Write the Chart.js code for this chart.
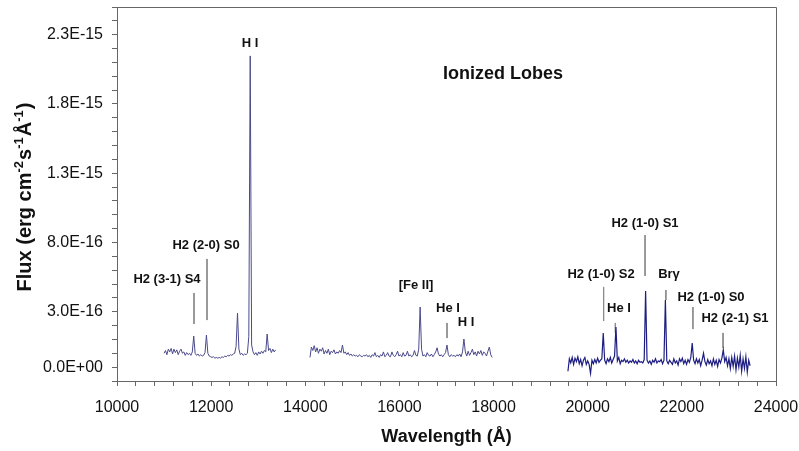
<!DOCTYPE html>
<html><head><meta charset="utf-8">
<script src="https://cdn.jsdelivr.net/npm/chart.js@4.4.0/dist/chart.umd.min.js"></script>
<style>html,body{margin:0;padding:0;background:#fff}</style>
</head><body>
<canvas id="c" width="799" height="451"></canvas>
<script>
// ---- data (flux in units of 1e-16 erg cm^-2 s^-1 A^-1, wavelength in Angstrom) ----
const seg1Start = 11000, seg1Step = 30;
const seg1Flux = [0.0,0.2,-0.1,0.3,0.1,0.35,-0.05,0.3,0.05,0.25,-0.1,0.15,0.3,0.0,0.1,-0.15,0.05,-0.1,0.0,-0.15,
  0.1,1.25,0.0,-0.15,-0.05,-0.2,-0.1,-0.2,-0.15,0.05,1.32,0.0,-0.2,-0.25,-0.3,-0.25,-0.35,-0.3,-0.35,-0.3,
  -0.35,-0.25,-0.3,-0.2,-0.25,-0.15,-0.2,-0.1,-0.15,-0.05,0.0,0.5,2.91,0.3,-0.1,0.0,-0.15,-0.05,-0.1,0.0,
  1.2,21.47,0.6,0.1,-0.1,0.05,-0.15,0.1,-0.05,0.15,0.0,0.2,0.1,1.39,0.2,0.35,0.05,0.3,0.1,0.25];

const seg2Start = 14100, seg2Step = 30;
const seg2Flux = [-0.3,0.45,0.2,0.55,0.1,0.4,0.0,0.3,0.15,0.4,-0.05,0.2,0.0,0.3,-0.1,0.15,0.05,0.25,-0.05,0.1,
  0.0,0.2,0.05,0.6,0.0,0.1,-0.1,0.05,-0.15,-0.05,-0.2,-0.1,-0.2,-0.15,-0.25,-0.1,-0.2,-0.25,-0.15,-0.2,
  -0.1,-0.25,-0.15,-0.3,-0.1,-0.2,0.05,-0.25,-0.15,-0.3,-0.1,-0.2,0.1,-0.25,-0.15,0.05,-0.2,-0.25,0.1,-0.15,
  -0.25,-0.1,0.15,-0.2,-0.1,-0.25,0.05,-0.2,-0.15,0.15,-0.2,-0.1,-0.25,-0.15,0.2,-0.15,-0.2,0.3,3.34,0.3,
  -0.2,-0.1,-0.25,0.05,-0.15,-0.2,-0.05,-0.25,-0.1,0.1,0.4,-0.05,-0.2,-0.1,-0.25,-0.1,0.05,0.6,-0.1,-0.25,
  -0.1,-0.2,-0.15,-0.25,-0.1,-0.2,-0.05,-0.25,0.1,1.03,0.1,-0.2,0.15,-0.15,0.05,0.3,-0.1,0.1,-0.2,0.15,
  -0.05,0.2,-0.15,0.1,0.0,-0.2,0.15,0.45,-0.1,-0.3];

const seg3Start = 19580, seg3Step = 30;
const seg3Flux = [-1.3,-0.4,-0.7,-0.3,-0.8,-0.35,-0.6,-0.25,-0.75,-0.45,-0.9,-0.5,-0.3,-0.8,-0.55,-0.8,-1.45,-0.5,-0.75,-0.45,
  -0.7,-0.35,-0.65,-0.5,-0.4,1.47,-0.5,-0.75,-0.4,-0.6,-0.3,-0.7,-0.45,-0.2,1.9,-0.55,-0.3,-0.75,-0.5,-0.6,
  -0.4,-0.65,-0.5,-0.7,-0.55,-0.65,-0.45,-0.7,-0.55,-0.75,-0.5,-0.65,-0.6,-0.7,-0.45,4.5,-0.5,-0.7,-0.55,-0.8,
  -0.5,-0.65,-0.4,-0.7,-0.55,-0.6,-0.45,-0.75,-0.5,3.85,-0.55,-0.75,-0.5,-0.65,-0.8,-0.4,-0.7,-0.55,-0.85,-0.4,
  -0.6,-0.35,-0.75,-0.5,-0.8,-0.45,-0.65,-0.3,0.74,-0.5,-0.75,-0.4,-0.7,-0.45,-0.9,-0.5,0.0,-0.6,-0.85,-0.45,
  -0.75,-0.55,-0.9,-0.4,-0.8,-0.5,-0.95,-0.45,-0.7,-0.35,0.24,-0.6,-0.3,-0.9,-0.4,-1.1,-0.3,-0.95,-0.2,-1.2,
  -0.35,-1.0,-0.15,-1.3,-0.4,-1.1,-0.25,-1.35,-0.5,-0.9];

// line identifications
const annotText = ['H2 (3-1) S4','H2 (2-0) S0','H I','[Fe II]','He I','H I','H2 (1-0) S2','He I','H2 (1-0) S1','Br\u03B3','H2 (1-0) S0','H2 (2-1) S1'];
const annotWave = [11062,11891,12826,16352,17032,17415,20283,20665,21217,21727,22619,23129];
const annotFlux = [5.36,7.82,22.4,4.93,3.27,2.26,5.73,3.27,9.41,5.73,4.06,2.55];

const markWave   = [11636,11912,17011,20338,20587,21218,21661,22235,22875];
const markTop    = [4.35,6.81,2.19,4.79,2.19,8.54,4.57,3.34,1.47];
const markBottom = [2.12,2.40,1.10,2.33,1.47,5.58,3.85,1.75,0.38];

const panelTitle = 'Ionized Lobes';
const panelTitleWave = 18200, panelTitleFlux = 20.17;

// axes
const yTickValues = [-1,3,8,13,18,23];
const yTickLabels = ['0.0E+00','3.0E-16','8.0E-16','1.3E-15','1.8E-15','2.3E-15'];
const yMin = -2, yMax = 25, yMinorStep = 1;
const xTickValues = [10000,12000,14000,16000,18000,20000,22000,24000];
const xTickLabels = ['10000','12000','14000','16000','18000','20000','22000','24000'];
const xMin = 10000, xMax = 24000, xMinorStep = 400;
const xTitle = 'Wavelength (\u00C5)';
const yTitleParts = [['Flux (erg cm',0],['-2',1],['s',0],['-1',1],['\u00C5',0],['-1',1],[')',0]];

// ---- build ----
function seg(start, step, arr){ return arr.map((v,i)=>({x:start+i*step, y:v})); }
const datasets = [
  {data:seg(seg1Start,seg1Step,seg1Flux), borderColor:'#4a4a8c', borderWidth:1},
  {data:seg(seg2Start,seg2Step,seg2Flux), borderColor:'#4a4a8c', borderWidth:1},
  {data:seg(seg3Start,seg3Step,seg3Flux), borderColor:'#1e1e82', borderWidth:1.2}
].map(d=>Object.assign(d,{showLine:true,pointRadius:0,tension:0}));
markWave.forEach((w,i)=>{
  datasets.push({data:[{x:w,y:markTop[i]},{x:w,y:markBottom[i]}],showLine:true,pointRadius:0,borderWidth:1,borderColor:'#8c8c8c'});
});

const FONT = '"Liberation Sans", Arial, sans-serif';
const yMap = {}; yTickValues.forEach((v,i)=>yMap[v]=yTickLabels[i]);
const xMap = {}; xTickValues.forEach((v,i)=>xMap[v]=xTickLabels[i]);

const textPlugin = {
  id:'textPlugin',
  afterDraw(chart){
    const {ctx, chartArea:a, scales:{x,y}} = chart;
    ctx.save();
    // frame top/right
    ctx.strokeStyle = '#666'; ctx.lineWidth = 1;
    ctx.beginPath();
    ctx.moveTo(Math.round(a.left)+0.5, Math.round(a.top)+0.5);
    ctx.lineTo(Math.round(a.right)+0.5, Math.round(a.top)+0.5);
    ctx.lineTo(Math.round(a.right)+0.5, Math.round(a.bottom)+0.5);
    ctx.stroke();
    // annotations
    ctx.fillStyle = '#111';
    ctx.textAlign = 'center'; ctx.textBaseline = 'middle';
    ctx.font = 'bold 13px ' + FONT;
    annotText.forEach((t,i)=>{ ctx.fillText(t, x.getPixelForValue(annotWave[i]), y.getPixelForValue(annotFlux[i])); });
    ctx.font = 'bold 18px ' + FONT;
    ctx.fillText(panelTitle, x.getPixelForValue(panelTitleWave), y.getPixelForValue(panelTitleFlux));
    // x title
    ctx.font = 'bold 18px ' + FONT;
    ctx.fillText(xTitle, (a.left+a.right)/2, 437);
    // y title with superscripts
    ctx.translate(25, 197); ctx.rotate(-Math.PI/2);
    const big = 'bold 20px ' + FONT, small = 'bold 13px ' + FONT;
    let w = 0;
    yTitleParts.forEach(p=>{ ctx.font = p[1]?small:big; w += ctx.measureText(p[0]).width + (p[1]?1:0); });
    let cx = -w/2;
    ctx.textAlign = 'left';
    yTitleParts.forEach(p=>{ ctx.font = p[1]?small:big; ctx.fillText(p[0], cx, p[1]?-6:0); cx += ctx.measureText(p[0]).width + (p[1]?1:0); });
    ctx.restore();
  }
};

function noPad(s){ s.paddingTop = 0; s.paddingBottom = 0; s.paddingLeft = 0; s.paddingRight = 0; }

new Chart(document.getElementById('c'), {
  type:'scatter',
  data:{datasets},
  options:{
    responsive:false, animation:false,
    layout:{padding:{left:0,right:23,top:7,bottom:0}},
    plugins:{legend:{display:false}, tooltip:{enabled:false}},
    scales:{
      x:{type:'linear', min:xMin, max:xMax,
        afterBuildTicks:(s)=>{ const t=[]; for(let v=xMin; v<=xMax; v+=xMinorStep) t.push({value:v}); s.ticks=t; },
        afterFit:(s)=>{ s.height = 70; noPad(s); },
        grid:{drawOnChartArea:false, drawTicks:true, tickLength:5, color:'#666'},
        border:{display:true, color:'#666', width:1},
        ticks:{autoSkip:false, maxRotation:0, padding:12, color:'#111', font:{family:FONT, size:16},
          callback:(v)=> xMap[v] !== undefined ? xMap[v] : ''}
      },
      y:{type:'linear', min:yMin, max:yMax,
        afterBuildTicks:(s)=>{ const t=[]; for(let v=yMin; v<=yMax; v+=yMinorStep) t.push({value:v}); s.ticks=t; },
        afterFit:(s)=>{ s.width = 117; noPad(s); },
        grid:{drawOnChartArea:false, drawTicks:true, tickLength:5, color:'#666'},
        border:{display:true, color:'#666', width:1},
        ticks:{autoSkip:false, padding:9, color:'#111', font:{family:FONT, size:16},
          callback:(v)=> yMap[v] !== undefined ? yMap[v] : ''}
      }
    }
  },
  plugins:[textPlugin]
});
</script>
</body></html>
